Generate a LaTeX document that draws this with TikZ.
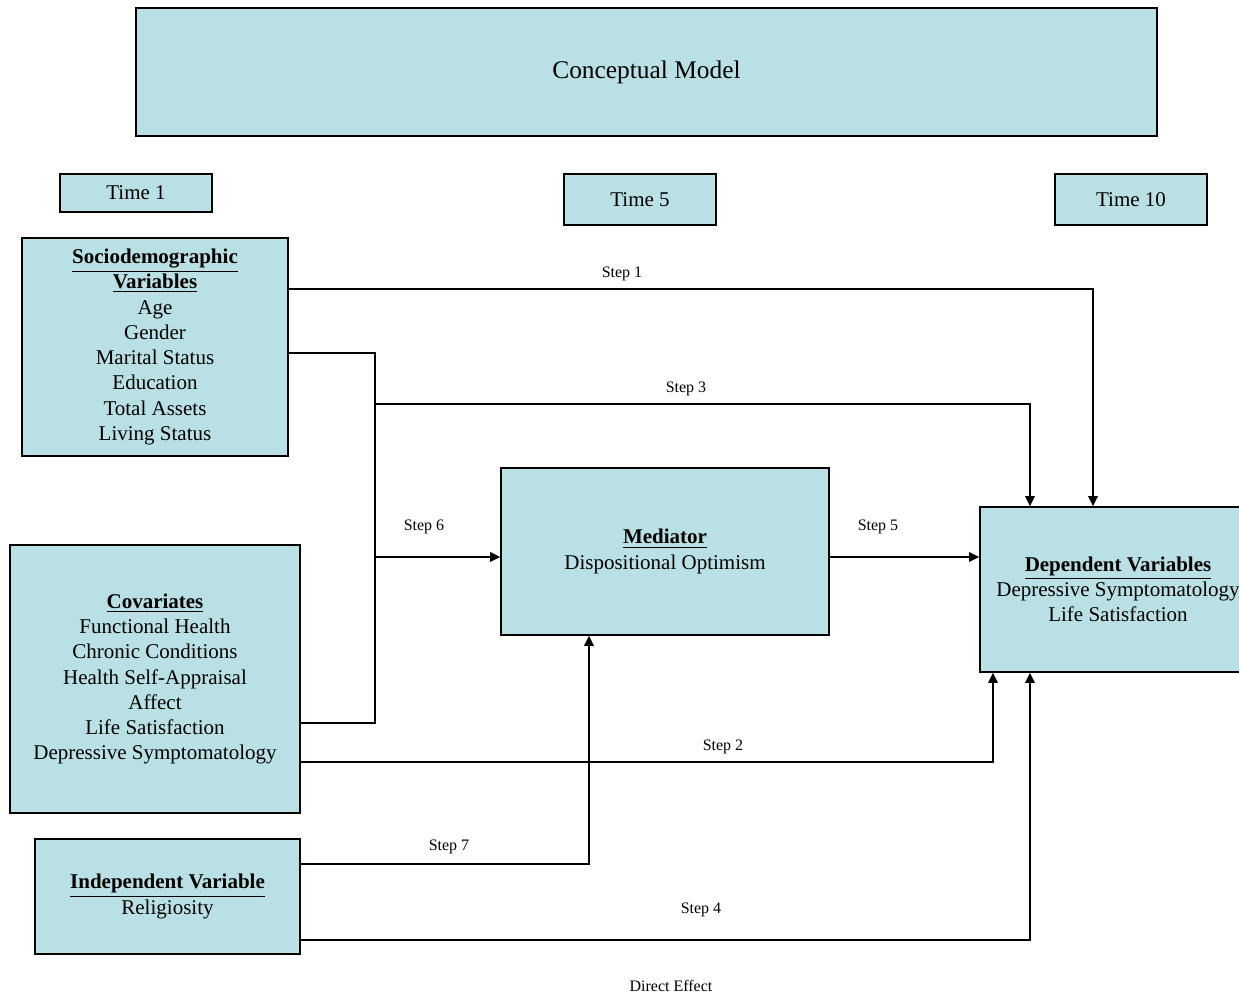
\documentclass[tikz,border=0pt]{standalone}
\usepackage{fontspec}
\setmainfont{Liberation Serif}
\definecolor{boxfill}{RGB}{185,224,228}
\usetikzlibrary{positioning,calc,arrows.meta}

\newcommand{\boxhead}[1]{\underline{\textbf{#1}}}

\begin{document}
\begin{tikzpicture}[x=0.5pt,y=-0.5pt,
    box/.style={draw=black, line width=0.9pt, fill=boxfill, align=center,
      inner sep=2pt, font=\fontsize{10.5}{12.65}\selectfont},
    conn/.style={line width=0.85pt},
    arr/.style={conn, -{Triangle[length=5pt,width=4.8pt]}},
    steplbl/.style={font=\fontsize{8}{9.6}\selectfont, inner sep=1pt}]
  \useasboundingbox (0,0) rectangle (1239,995);
  % Bandeau du titre et reperes temporels
  \node[box, minimum width=510.5pt, minimum height=64pt,
        font=\fontsize{12.7}{15}\selectfont] (titel) at (646.5,72)
    {Conceptual Model};
  \node[box, minimum width=76pt, minimum height=19pt] (time1) at (136,193) {Time 1};
  \node[box, minimum width=76pt, minimum height=25.5pt] (time5) at (640,199.5) {Time 5};
  \node[box, minimum width=76pt, minimum height=25.5pt] (time10) at (1131,199.5) {Time 10};
  % Blocs de variables
  \node[box, minimum width=133pt, minimum height=109pt] (socio) at (155,347)
    {\boxhead{Sociodemographic}\\\boxhead{Variables}\\Age\\Gender\\
     Marital Status\\Education\\Total Assets\\Living Status};
  \node[box, minimum width=145pt, minimum height=134pt] (covar) at (155,679)
    {\boxhead{Covariates}\\Functional Health\\Chronic Conditions\\
     Health Self-Appraisal\\Affect\\Life Satisfaction\\Depressive Symptomatology};
  \node[box, minimum width=132.5pt, minimum height=57.5pt] (indep) at (167.5,896.5)
    {\boxhead{Independent Variable}\\Religiosity};
  \node[box, minimum width=164pt, minimum height=83.5pt] (mediator) at (665,551.5)
    {\boxhead{Mediator}\\Dispositional Optimism};
  \node[box, minimum width=138pt, minimum height=82.5pt] (depvar) at (1118,589.5)
    {\boxhead{Dependent Variables}\\Depressive Symptomatology\\Life Satisfaction};
  % Points de passage des liaisons
  \coordinate (trunk) at (375,353);
  \coordinate (trunkend) at (375,723);
  \coordinate (s1) at (1093,289);
  \coordinate (s3) at (1030,404);
  \coordinate (s2) at (993,762);
  \coordinate (s7) at (589,864);
  \coordinate (s4) at (1030,940);
  % Liaisons
  \draw[arr] (socio.east |- s1) -| (s1 |- depvar.north);
  \draw[conn] (socio.east |- trunk) -- (trunk) -- (trunkend) -- (covar.east |- trunkend);
  \draw[arr] (trunk |- s3) -| (s3 |- depvar.north);
  \draw[arr] (trunk |- 0,557) -- (mediator.west |- 0,557);
  \draw[arr] (mediator.east |- 0,557) -- (depvar.west |- 0,557);
  \draw[arr] (covar.east |- s2) -| (s2 |- depvar.south);
  \draw[arr] (indep.east |- s7) -| (s7 |- mediator.south);
  \draw[arr] (indep.east |- s4) -| (s4 |- depvar.south);
  % Etiquettes des etapes
  \node[steplbl] (l1) at (622,274) {Step 1};
  \node[steplbl] (l3) at (686,389) {Step 3};
  \node[steplbl] (l6) at (424,527) {Step 6};
  \node[steplbl] (l5) at (878,527) {Step 5};
  \node[steplbl] (l2) at (723,747) {Step 2};
  \node[steplbl] (l7) at (449,847) {Step 7};
  \node[steplbl] (l4) at (701,910) {Step 4};
  \node[steplbl] (direct) at (671,986) {Direct Effect};
\end{tikzpicture}
\end{document}
